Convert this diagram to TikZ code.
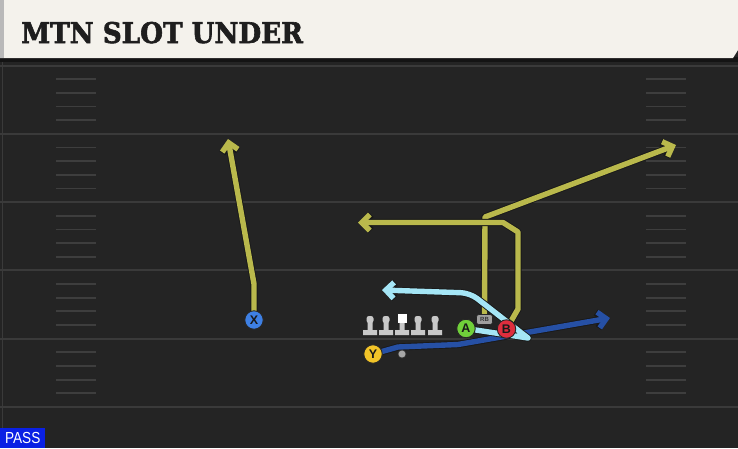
\documentclass[tikz,border=0pt]{standalone}
\usepackage{fontspec}
\setmainfont{Liberation Sans}
\newfontfamily\titlefont{DejaVu Serif}[FakeBold=2.2]
\usetikzlibrary{arrows.meta}

\definecolor{fieldbg}{RGB}{36,36,36}
\definecolor{fieldline}{RGB}{58,58,58}
\definecolor{hashcol}{RGB}{62,62,62}
\definecolor{bandcol}{RGB}{244,242,236}
\definecolor{titleink}{RGB}{30,30,30}
\definecolor{routeyel}{RGB}{186,185,76}
\definecolor{routecyan}{RGB}{165,230,246}
\definecolor{routeblue}{RGB}{38,80,165}
\definecolor{passblue}{RGB}{10,32,228}
\definecolor{xblue}{RGB}{62,128,228}
\definecolor{ygold}{RGB}{242,196,40}
\definecolor{agreen}{RGB}{112,208,58}
\definecolor{bred}{RGB}{222,46,62}
\definecolor{linegrey}{RGB}{200,200,200}

\pgfdeclarelayer{field}
\pgfdeclarelayer{routes}
\pgfsetlayers{field,routes,main}

\tikzset{
  player/.style={circle,draw=black!85,line width=0.9pt,inner sep=0pt,minimum size=18.5pt,
    font=\bfseries\fontsize{12.5}{12.5}\selectfont,text=black!90},
  rbtag/.style={rectangle,rounded corners=2.5pt,fill=gray!75,draw=black!85,line width=0.6pt,
    minimum width=16pt,minimum height=10pt,inner sep=0pt,
    font=\bfseries\fontsize{6}{6}\selectfont,text=black!80},
  routeline/.style={line width=5.4pt,line join=round,
    -{Straight Barb[length=8pt,width=16pt]}},
  routeback/.style={routeline,draw=black!90,line width=7.2pt},
  fieldmark/.style={draw=hashcol,line width=1.8pt},
  yardline/.style={draw=fieldline,line width=2pt},
}
\newcommand{\routedraw}[2]{%
  \draw[routeback] #2;
  \draw[routeline,draw=#1] #2;}

\begin{document}
\begin{tikzpicture}[x=1pt,y=-1pt]
  \useasboundingbox (0,0) rectangle (738,448);

  % Field
  \begin{pgfonlayer}{field}
    \fill[fieldbg] (0,0) rectangle (738,448);
    \draw[fieldline,line width=1pt] (2,62) -- (2,448);
    \foreach \k in {0,...,5}
      \draw[yardline] (0,65.5+68.3*\k) -- (738,65.5+68.3*\k);
    \foreach \k in {0,...,4}
      \foreach \j in {1,...,4} {
        \draw[fieldmark] (56,65.5+68.3*\k+13.66*\j) -- (96,65.5+68.3*\k+13.66*\j);
        \draw[fieldmark] (646,65.5+68.3*\k+13.66*\j) -- (686,65.5+68.3*\k+13.66*\j);
      }
    % Title band
    \fill[black!92] (0,57) rectangle (738,62);
    \fill[bandcol] (0,0) -- (738,0) -- (738,50) -- (733,58) -- (0,58) -- cycle;
    \fill[gray!55] (0,0) rectangle (3.5,58);
  \end{pgfonlayer}

  \node[anchor=base west,inner sep=0pt,text=titleink,font=\titlefont\bfseries\fontsize{28.5}{28.5}\selectfont]
    (title) at (21,43) {\scalebox{0.92}[1]{MTN SLOT UNDER}};

  % Linemen
  \foreach \lx in {370,386,402,418,435} {
    \draw[black!85,line width=1.4pt] (\lx-7,330) rectangle (\lx+7,335)
      (\lx-2.5,321) rectangle (\lx+2.5,330);
  }
  \foreach \lx in {370,386,418,435}
    \draw[black!85,line width=1.4pt,rounded corners=2.5pt] (\lx-3.5,316) rectangle (\lx+3.5,323);
  \draw[black!85,line width=1.4pt] (397.5,313.5) rectangle (406.5,322.5);
  \foreach \lx in {370,386,402,418,435} {
    \fill[linegrey] (\lx-7,330) rectangle (\lx+7,335)
      (\lx-2.5,321) rectangle (\lx+2.5,330.5);
  }
  \foreach \lx in {370,386,418,435}
    \fill[linegrey,rounded corners=2.5pt] (\lx-3.5,316) rectangle (\lx+3.5,323);
  \fill[white] (397.5,313.5) rectangle (406.5,322.5);

  % Players
  \node[player,fill=xblue] (x) at (254,320) {X};
  \node[player,fill=ygold] (y) at (373,354) {Y};
  \node[player,fill=agreen] (a) at (466,328.5) {A};
  \node[player,fill=bred] (b) at (506.5,329) {B};
  \node[rbtag] (rb) at (484.5,319.5) {RB};
  \node[circle,fill=gray!70,draw=black!80,line width=0.6pt,minimum size=8pt,inner sep=0pt] (ball) at (402,354) {};

  % Route points
  \coordinate (xbend) at (254,284);
  \coordinate (xtip) at (228,139);
  \coordinate (rbup) at (485,217);
  \coordinate (rbtip) at (676,145);
  \coordinate (bout) at (518,309);
  \coordinate (bup) at (518,232);
  \coordinate (bcut) at (503,222.5);
  \coordinate (btip) at (358,222.5);
  \coordinate (cypivot) at (528,338);
  \coordinate (cybend) at (470,293);
  \coordinate (cytip) at (382,290);
  \coordinate (ystep) at (398,347);
  \coordinate (ymid) at (458,344.5);
  \coordinate (ytip) at (610,318);

  % Routes
  \begin{pgfonlayer}{routes}
    \routedraw{routeyel}{(x.center) -- (xbend) -- (xtip)}
    \routedraw{routeyel}{(rb.center) -- (rbup) -- (rbtip)}
    \routedraw{routeyel}{(b.center) -- (bout) -- (bup) -- (bcut) -- (btip)}
    \routedraw{routeblue}{(y.center) -- (ystep) -- (ymid) -- (ytip)}
    \routedraw{routecyan}{(a.center) -- (cypivot) [rounded corners=9pt] -- (cybend) -- (cytip)}
  \end{pgfonlayer}

  % Play type
  \node[anchor=south west,fill=passblue,text=white,inner sep=0pt,minimum width=45pt,minimum height=20pt,
    font=\fontsize{16}{16}\selectfont] (pass) at (0,448) {\scalebox{0.85}[1]{PASS}};
\end{tikzpicture}
\end{document}
